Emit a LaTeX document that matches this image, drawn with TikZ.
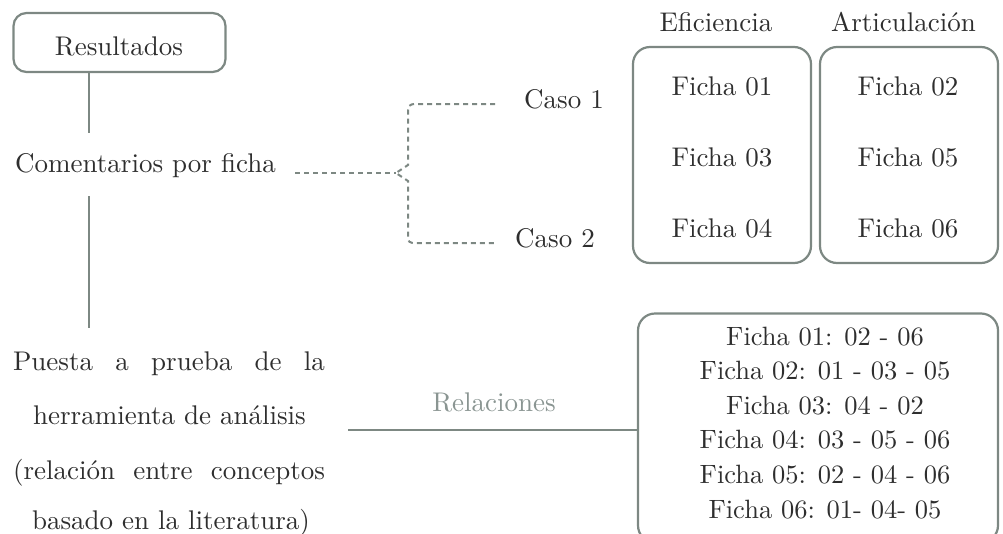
\documentclass[tikz,border=0pt]{standalone}
\usepackage{fontspec}
\setmainfont{lmroman10-regular.otf}
\definecolor{ln}{HTML}{7D8883}
\definecolor{tx}{HTML}{2E2E2E}
\definecolor{lt}{HTML}{8A9592}
\tikzset{
  txt/.style={font=\fontsize{27}{30}\selectfont, text=tx, inner sep=0pt, anchor=base},
  rtxt/.style={font=\fontsize{26.5}{30}\selectfont, text=tx, inner sep=0pt, anchor=base},
  box/.style={draw=ln, line width=2.2pt, rounded corners=#1, inner sep=0pt},
  conn/.style={draw=ln, line width=2.4pt},
  dsh/.style={draw=ln, line width=2pt, dash pattern=on 5pt off 4pt},
}
\begin{document}
\begin{tikzpicture}[x=1pt,y=-1pt]
\useasboundingbox (0,0) rectangle (1003,533);
% Resultados
\node[box=13pt, minimum width=212pt, minimum height=59pt] (res) at (119.5,42.5) {};
\node[txt] (restxt) at (119,55.5) {Resultados};
% Comentarios
\node[txt] (coment) at (145.5,172) {Comentarios por ficha};
\coordinate (v1) at (89,133);
\draw[conn] (res.south -| v1) -- (v1);
\coordinate (v2a) at (89,196);
\coordinate (v2b) at (89,328);
\draw[conn] (v2a) -- (v2b);
% dashed brace
\coordinate (dl) at (295,173);
\coordinate (tip) at (396,173);
\coordinate (c1) at (495,104);
\coordinate (c2) at (495,243);
\draw[dsh] (dl) -- (tip);
\draw[dsh] (c1) -- (416,104) .. controls (409,104) and (408,106) .. (408,112) -- (408,165) -- (tip) -- (408,181) -- (408,236) .. controls (408,242) and (409,243) .. (416,243) -- (c2);
\node[txt] (caso1) at (564,108) {Caso 1};
\node[txt] (caso2) at (555,247) {Caso 2};
% top boxes
\node[txt] (efi) at (716,31) {Eficiencia};
\node[txt] (art) at (903.5,31) {Articulación};
\node[box=17pt, minimum width=178pt, minimum height=216pt] (b1) at (722,155) {};
\node[box=17pt, minimum width=178pt, minimum height=216pt] (b2) at (909,155) {};
\node[txt] (f01) at (722,95) {Ficha 01};
\node[txt] (f03) at (722,166) {Ficha 03};
\node[txt] (f04) at (722,237) {Ficha 04};
\node[txt] (f02) at (908,95) {Ficha 02};
\node[txt] (f05) at (908,166) {Ficha 05};
\node[txt] (f06) at (908,237) {Ficha 06};
% Puesta a prueba
\node[txt] (p1) at (169,370) {\makebox[312pt][s]{Puesta a prueba de la}};
\node[txt] (p2) at (169.5,424.5) {herramienta de análisis};
\node[txt] (p3) at (169,479) {\makebox[312pt][s]{(relación entre conceptos}};
\node[txt] (p4) at (171,529) {basado en la literatura)};
% Relaciones
\node[box=17pt, minimum width=360pt, minimum height=229pt] (rel) at (818,428) {};
\coordinate (h0) at (348,430);
\draw[conn] (h0) -- (h0 -| rel.west);
\node[txt, text=lt] (relac) at (494,411) {Relaciones};
\node[rtxt] (r1) at (825,345) {Ficha 01: 02 - 06};
\node[rtxt] (r2) at (825,379.6) {Ficha 02: 01 - 03 - 05};
\node[rtxt] (r3) at (825,414.2) {Ficha 03: 04 - 02};
\node[rtxt] (r4) at (825,448.8) {Ficha 04: 03 - 05 - 06};
\node[rtxt] (r5) at (825,483.4) {Ficha 05: 02 - 04 - 06};
\node[rtxt] (r6) at (825,518) {Ficha 06: 01- 04- 05};
\end{tikzpicture}
\end{document}
